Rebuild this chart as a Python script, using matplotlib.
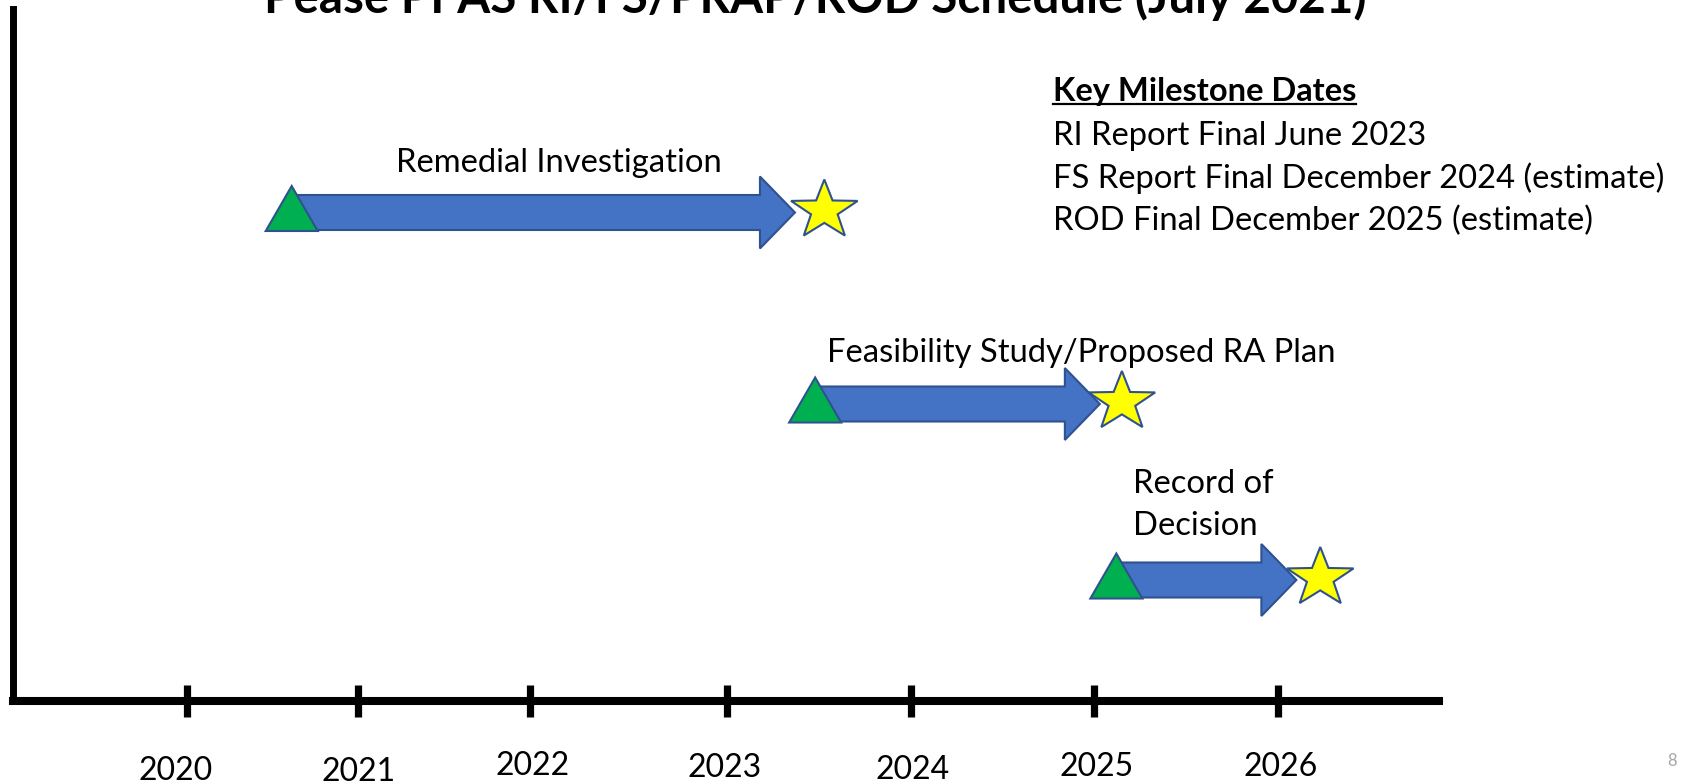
import matplotlib
matplotlib.use("Agg")
import matplotlib.pyplot as plt
from matplotlib.patches import Polygon
from matplotlib.lines import Line2D
import numpy as np

# ---------------- data ----------------
title = "Pease PFAS RI/FS/PRAP/ROD Schedule (July 2021)"
phases = ["Remedial Investigation", "Feasibility Study/Proposed RA Plan", "Record of\nDecision"]
start_dates = [2020.63, 2023.48, 2025.12]        # green triangles (phase start)
end_dates = [2023.37, 2025.03, 2026.10]          # arrow tips
milestone_dates = [2023.53, 2025.15, 2026.23]    # yellow stars (final report)
year_labels = ["2020", "2021", "2022", "2023", "2024", "2025", "2026"]
tick_pos = [2020.06, 2020.99, 2021.93, 2023.0, 2024.0, 2025.0, 2026.0]
key_heading = "Key Milestone Dates"
key_lines = ["RI Report Final June 2023",
             "FS Report Final December 2024 (estimate)",
             "ROD Final December 2025 (estimate)"]
page_number = "8"

# ---------------- layout / style constants ----------------
W, H, DPI = 1686, 784, 100
AX_LEFT_PX, AX_RIGHT_PX = 12.5, 1439.0
AX_BASE_PX, AX_TOP_PX = 701.0, 8.5
PX_PER_YEAR = 183.67
REF_YEAR, REF_PX = 2023.0, 727.0

FONT = "Lato"
BODY_FS = 23.6
YEAR_FS = 23
HEAD_FS = 23.5
TITLE_FS = 34.2
ARROW_FILL = "#4472C4"
EDGE = "#2F528F"
TRI_FILL = "#00B050"
STAR_FILL = "#FFFF00"

lane_y = [488.5, 297.0, 121.0]          # arrow centre height above the axis line (px)
label_left_px = [396, 827, 1133]        # label left edge (px from figure left)
label_base_px = [172, 362, 535]         # label last-line baseline (px from figure top)
ylab_center_px = [176, 359, 533, 725, 913, 1097, 1281]
ylab_base_px = [780, 781, 775, 777, 779, 776, 776]
key_left_px = 1053
key_base_px = [101, 145, 188, 230]

plt.rcParams["font.family"] = [FONT, "DejaVu Sans"]


def px2year(px):
    return REF_YEAR + (px - REF_PX) / PX_PER_YEAR


def top2y(px_top):
    return AX_BASE_PX - px_top


fig = plt.figure(figsize=(W / DPI, H / DPI), dpi=DPI)
fig.patch.set_facecolor("white")
ax = fig.add_axes([AX_LEFT_PX / W, 1 - AX_BASE_PX / H,
                   (AX_RIGHT_PX - AX_LEFT_PX) / W, (AX_BASE_PX - AX_TOP_PX) / H])
ax.set_xlim(px2year(AX_LEFT_PX), px2year(AX_RIGHT_PX))
ax.set_ylim(0, AX_BASE_PX - AX_TOP_PX)
ax.set_facecolor("none")

for s in ["top", "right"]:
    ax.spines[s].set_visible(False)
ax.spines["left"].set_linewidth(5.0)
ax.spines["bottom"].set_linewidth(5.8)
for s in ["left", "bottom"]:
    ax.spines[s].set_capstyle("projecting")
    ax.spines[s].set_color("black")

ax.set_yticks([])
ax.set_xticks(tick_pos)
ax.set_xticklabels([])
ax.tick_params(axis="x", direction="inout", length=22.5, width=5.2, color="black")

ux = 1.0 / PX_PER_YEAR  # one pixel in x data units

# arrows, triangles, stars
SHAFT_H, HEAD_H, HEAD_L = 17.5, 36.0, 35.0
TRI_HALF, TRI_H, TRI_DROP = 26.0, 45.0, 18.5
STAR_RX, STAR_RY, STAR_INNER = 35.0, 31.0, 0.40
for s, t, m, c in zip(start_dates, end_dates, milestone_dates, lane_y):
    hl = HEAD_L * ux
    arrow = [(s, c - SHAFT_H), (t - hl, c - SHAFT_H), (t - hl, c - HEAD_H), (t, c),
             (t - hl, c + HEAD_H), (t - hl, c + SHAFT_H), (s, c + SHAFT_H)]
    ax.add_patch(Polygon(arrow, closed=True, facecolor=ARROW_FILL, edgecolor=EDGE,
                         linewidth=1.5, joinstyle="miter", zorder=2))
    tri = [(s - TRI_HALF * ux, c - TRI_DROP), (s + TRI_HALF * ux, c - TRI_DROP),
           (s, c - TRI_DROP + TRI_H)]
    ax.add_patch(Polygon(tri, closed=True, facecolor=TRI_FILL, edgecolor=EDGE,
                         linewidth=1.5, joinstyle="miter", zorder=3))
    ang = np.pi / 2 + np.arange(10) * np.pi / 5
    rad = np.where(np.arange(10) % 2 == 0, 1.0, STAR_INNER)
    cy = c + 2
    star = np.column_stack([m + rad * STAR_RX * ux * np.cos(ang), cy + rad * STAR_RY * np.sin(ang)])
    ax.add_patch(Polygon(star, closed=True, facecolor=STAR_FILL, edgecolor=EDGE,
                         linewidth=1.5, joinstyle="miter", zorder=4))

# phase labels
for name, lx, by in zip(phases, label_left_px, label_base_px):
    ax.text(px2year(lx), top2y(by), name, ha="left", va="baseline", fontsize=BODY_FS,
            color="black", linespacing=1.5, zorder=5)

# year labels
for lab, cx, by in zip(year_labels, ylab_center_px, ylab_base_px):
    ax.text(px2year(cx), top2y(by), lab, ha="center", va="baseline", fontsize=YEAR_FS,
            color="black", clip_on=False)

# title (cut off at the top as in the slide)
fig.text(815 / W, 1 - 13 / H, title, ha="center", va="baseline", fontsize=TITLE_FS,
         fontweight="bold", color="black")

# key milestone block
head = fig.text(key_left_px / W, 1 - key_base_px[0] / H, key_heading, ha="left",
                va="baseline", fontsize=HEAD_FS, fontweight="bold", color="black")
for line, by in zip(key_lines, key_base_px[1:]):
    fig.text(key_left_px / W, 1 - by / H, line, ha="left", va="baseline",
             fontsize=BODY_FS, color="black")

fig.canvas.draw()
bb = head.get_window_extent(renderer=fig.canvas.get_renderer())
uy = 1 - (key_base_px[0] + 3) / H
fig.add_artist(Line2D([bb.x0 / W, bb.x1 / W], [uy, uy], transform=fig.transFigure,
                      color="black", linewidth=1.6))

# page number
fig.text(1672 / W, 1 - 766 / H, page_number, ha="center", va="baseline", fontsize=12,
         color="#A6A6A6")

fig.savefig("out.png", dpi=DPI, facecolor="white")
